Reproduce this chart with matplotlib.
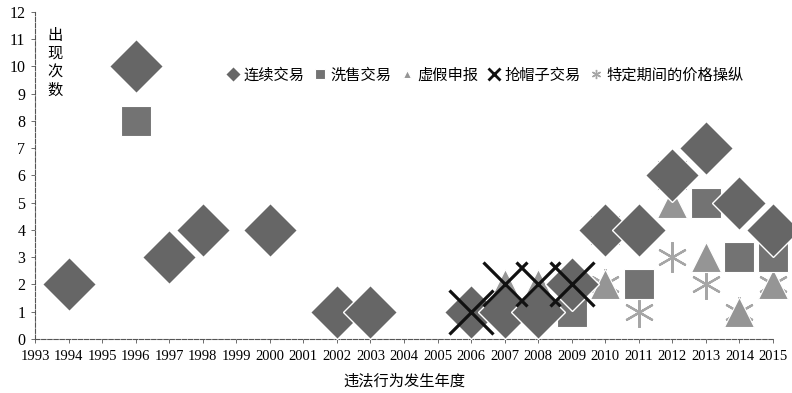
import matplotlib
matplotlib.use("Agg")
import matplotlib.pyplot as plt

# 违法行为类型及出现次数（按年度）
lianxu_years = [1994, 1996, 1997, 1998, 2000, 2002, 2003, 2006, 2007, 2008, 2009, 2010, 2011, 2012, 2013, 2014, 2015]
lianxu_counts = [2, 10, 3, 4, 4, 1, 1, 1, 1, 1, 2, 4, 4, 6, 7, 5, 4]

xishou_years = [1996, 2009, 2010, 2011, 2012, 2013, 2014, 2015]
xishou_counts = [8, 1, 4, 2, 6, 5, 3, 3]

xujia_years = [2007, 2008, 2010, 2012, 2013, 2014, 2015]
xujia_counts = [2, 2, 2, 5, 3, 1, 2]

qiangmaozi_years = [2006, 2007, 2008, 2009]
qiangmaozi_counts = [1, 2, 2, 2]

caozong_years = [1994, 2010, 2011, 2012, 2013, 2014, 2015]
caozong_counts = [2, 2, 1, 3, 2, 1, 2]

series_names = ["连续交易", "洗售交易", "虚假申报", "抢帽子交易", "特定期间的价格操纵"]
year_ticks = list(range(1993, 2016))
count_ticks = list(range(0, 13))

cjk = ["Noto Sans CJK SC", "DejaVu Sans"]
serif = "Liberation Serif"

fig = plt.figure(figsize=(7.92, 3.93), dpi=100)
ax = fig.add_axes([0.0442, 0.1374, 0.9318, 0.8321])

h_ast, = ax.plot(caozong_years, caozong_counts, ls="none", marker=(6, 2, 0), ms=22,
                 mec="#a6a6a6", mew=1.6, clip_on=False, zorder=2, label=series_names[4])
h_tri, = ax.plot(xujia_years, xujia_counts, ls="none", marker="^", ms=21,
                 mfc="#959595", mec="white", mew=0.8, clip_on=False, zorder=3, label=series_names[2])
h_sq, = ax.plot(xishou_years, xishou_counts, ls="none", marker="s", ms=22,
                mfc="#737373", mec="white", mew=0.8, clip_on=False, zorder=4, label=series_names[1])
h_dia, = ax.plot(lianxu_years, lianxu_counts, ls="none", marker="D", ms=27,
                 mfc="#666666", mec="white", mew=1.0, clip_on=False, zorder=5,
                 label=series_names[0])
h_x, = ax.plot(qiangmaozi_years, qiangmaozi_counts, ls="none", marker="x", ms=31,
               mec="#111111", mew=2.3, clip_on=False, zorder=6, label=series_names[3])

ax.set_xlim(1993, 2015)
ax.set_ylim(0, 12)
ax.set_xticks(year_ticks)
ax.set_xticklabels([str(y) for y in year_ticks], fontfamily=serif, fontsize=10.5)
ax.set_yticks(count_ticks)
ax.set_yticklabels([str(c) for c in count_ticks], fontfamily=serif, fontsize=11.5)
ax.tick_params(axis="both", length=3, width=0.6, color="#555555", pad=2)
ax.tick_params(axis="y", pad=4)
ax.tick_params(axis="x", pad=5)

for side in ["top", "right"]:
    ax.spines[side].set_visible(False)
for side in ["left", "bottom"]:
    ax.spines[side].set_linestyle((0, (4, 1.5)))
    ax.spines[side].set_linewidth(0.8)
    ax.spines[side].set_color("#555555")

ax.text(0.027, 0.955, "出\n现\n次\n数", transform=ax.transAxes, ha="center", va="top",
        fontsize=11, family=cjk, linespacing=1.1)

ax.set_xlabel("违法行为发生年度", family=cjk, fontsize=11, labelpad=7)

leg = ax.legend(handles=[h_dia, h_sq, h_tri, h_x, h_ast], ncol=5, loc="center",
                bbox_to_anchor=(0.61, 0.807), frameon=False, markerscale=0.3,
                handlelength=0.8, handletextpad=0.3, columnspacing=0.6, numpoints=1,
                prop={"family": cjk, "size": 11})
for h in leg.legend_handles:
    h.set_markeredgewidth(min(h.get_markeredgewidth(), 1.0) if h.get_marker() != "x" else 2.0)

fig.savefig("out.png", dpi=100)
